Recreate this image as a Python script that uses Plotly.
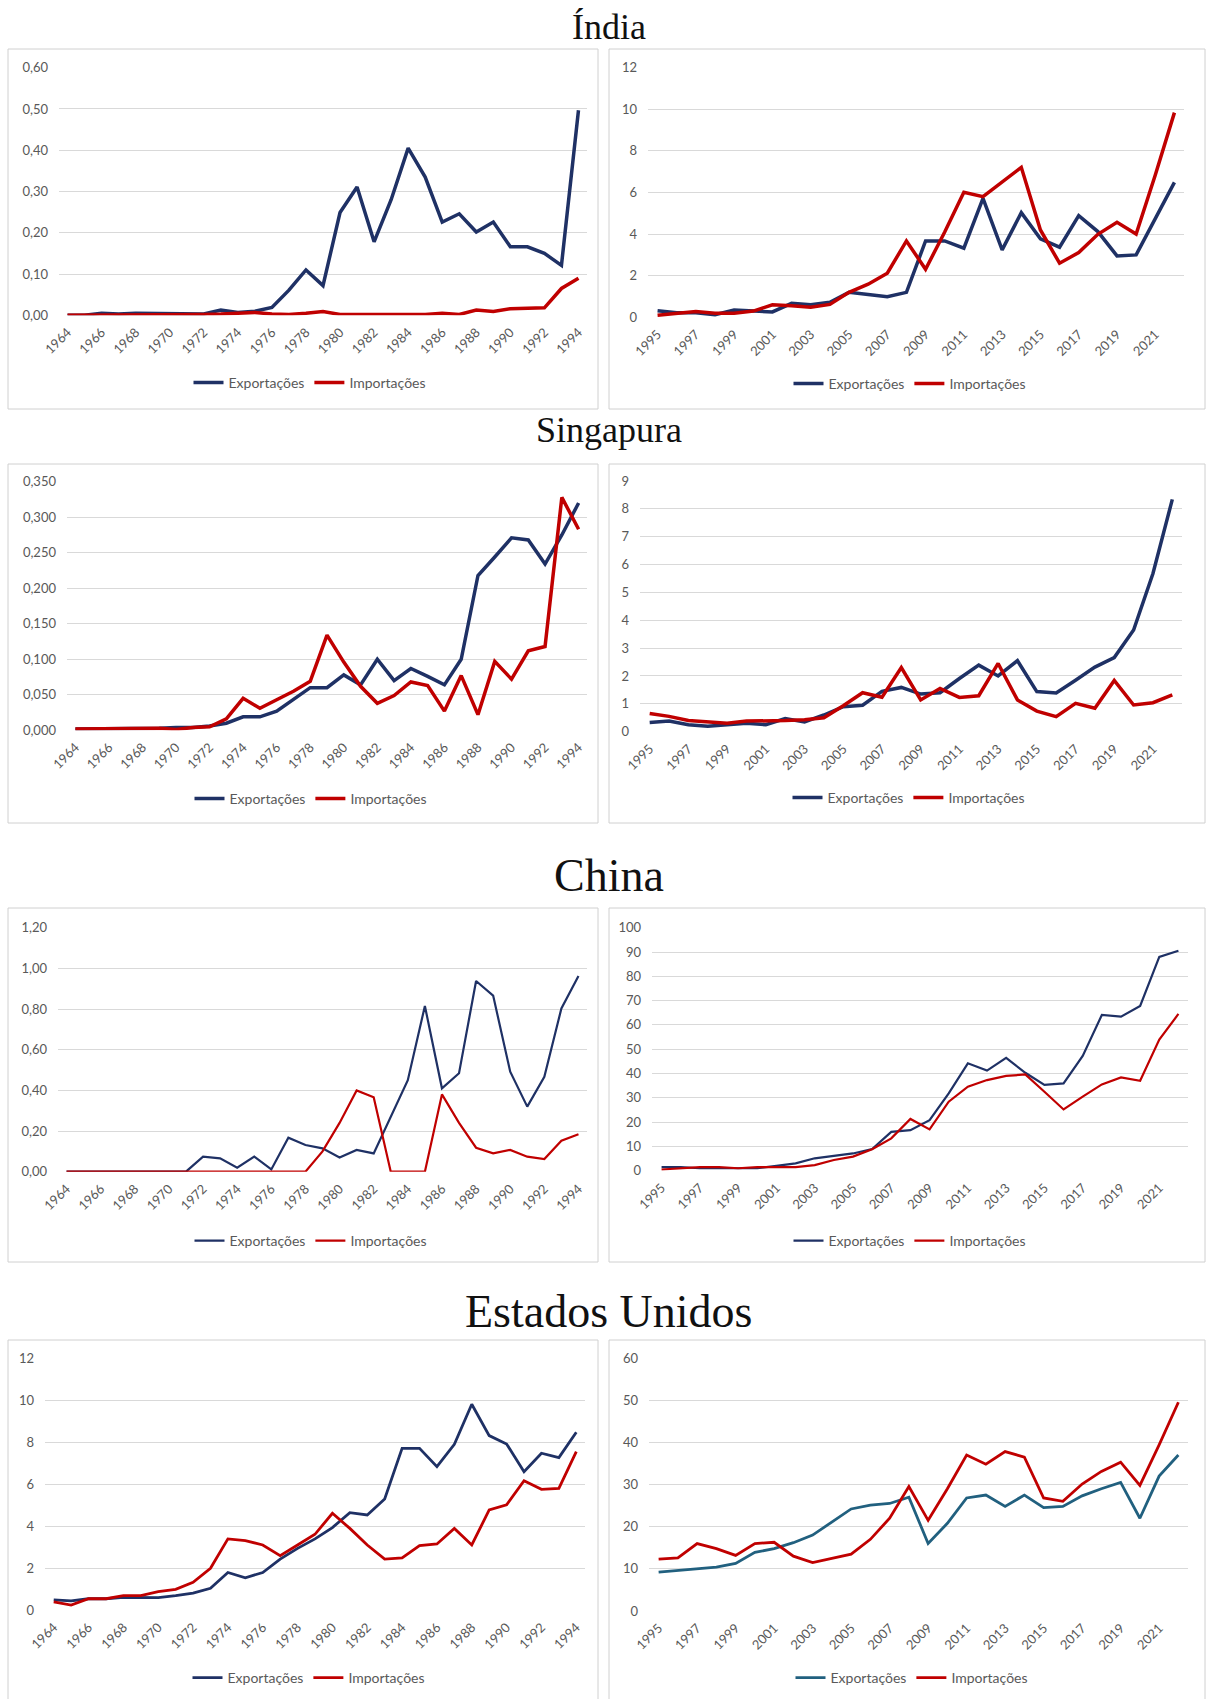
import plotly.graph_objects as go

# ---------------------------------------------------------------------------
# Data: trade values per country, two periods (1964-1994 and 1995-2022)
# ---------------------------------------------------------------------------
years_early = list(range(1964, 1995))
years_late = list(range(1995, 2023))

india_exp_early = [0.000, 0.000, 0.005, 0.003, 0.005, 0.005, 0.005, 0.003, 0.003, 0.013,
                   0.007, 0.010, 0.019, 0.061, 0.110, 0.072, 0.249, 0.311, 0.178, 0.280,
                   0.405, 0.335, 0.226, 0.246, 0.202, 0.226, 0.166, 0.166, 0.150, 0.121,
                   0.497]
india_imp_early = [0.000, 0.000, 0.002, 0.002, 0.002, 0.002, 0.002, 0.002, 0.002, 0.003,
                   0.006, 0.007, 0.003, 0.002, 0.005, 0.009, 0.002, 0.002, 0.002, 0.000,
                   0.002, 0.002, 0.005, 0.002, 0.013, 0.009, 0.016, 0.016, 0.018, 0.065,
                   0.090]
india_exp_late = [0.32, 0.22, 0.22, 0.12, 0.35, 0.30, 0.26, 0.67, 0.60, 0.72,
                  1.20, 1.10, 0.99, 1.20, 3.67, 3.67, 3.32, 5.72, 3.24, 5.03,
                  3.77, 3.37, 4.89, 4.12, 2.95, 3.00, 4.76, 6.49]
india_imp_late = [0.10, 0.20, 0.28, 0.20, 0.20, 0.30, 0.60, 0.55, 0.48, 0.62,
                  1.20, 1.59, 2.12, 3.67, 2.31, 4.10, 6.01, 5.80, 6.52, 7.21,
                  4.20, 2.60, 3.11, 3.99, 4.57, 4.00, 6.84, 9.84]

sing_exp_early = [0.002, 0.002, 0.002, 0.002, 0.003, 0.003, 0.004, 0.004, 0.006, 0.010,
                  0.019, 0.019, 0.027, 0.044, 0.060, 0.060, 0.078, 0.064, 0.100, 0.070,
                  0.087, 0.076, 0.064, 0.100, 0.218, 0.244, 0.271, 0.268, 0.234, 0.275,
                  0.320]
sing_imp_early = [0.002, 0.002, 0.002, 0.002, 0.003, 0.003, 0.001, 0.004, 0.005, 0.016,
                  0.045, 0.031, 0.043, 0.055, 0.069, 0.134, 0.096, 0.062, 0.038, 0.049,
                  0.068, 0.063, 0.027, 0.077, 0.022, 0.097, 0.072, 0.112, 0.118, 0.328,
                  0.283]
sing_exp_late = [0.33, 0.38, 0.25, 0.20, 0.25, 0.30, 0.25, 0.47, 0.35, 0.60,
                 0.90, 0.95, 1.45, 1.59, 1.35, 1.40, 1.91, 2.39, 2.00, 2.55,
                 1.44, 1.39, 1.85, 2.32, 2.66, 3.65, 5.68, 8.34]
sing_imp_late = [0.65, 0.55, 0.40, 0.35, 0.30, 0.38, 0.38, 0.40, 0.43, 0.50,
                 0.93, 1.40, 1.24, 2.30, 1.14, 1.55, 1.23, 1.29, 2.45, 1.14,
                 0.74, 0.54, 1.02, 0.84, 1.84, 0.96, 1.04, 1.32]

china_exp_early = [0.00, 0.00, 0.00, 0.00, 0.00, 0.00, 0.00, 0.00, 0.074, 0.066,
                   0.020, 0.074, 0.011, 0.167, 0.131, 0.115, 0.070, 0.107, 0.090, 0.270,
                   0.450, 0.815, 0.410, 0.484, 0.938, 0.866, 0.492, 0.320, 0.467, 0.803,
                   0.962]
china_imp_early = [0.00, 0.00, 0.00, 0.00, 0.00, 0.00, 0.00, 0.00, 0.00, 0.00,
                   0.00, 0.00, 0.00, 0.00, 0.00, 0.100, 0.240, 0.400, 0.366, 0.000,
                   0.000, 0.000, 0.380, 0.240, 0.118, 0.090, 0.107, 0.074, 0.062, 0.152,
                   0.184]
china_exp_late = [1.5, 1.5, 1.0, 1.0, 0.8, 1.0, 2.0, 3.0, 5.1, 6.0,
                  7.1, 8.9, 16.0, 16.7, 20.8, 31.8, 44.2, 41.2, 46.4, 40.3,
                  35.3, 35.9, 47.2, 64.1, 63.4, 67.8, 88.0, 90.5]
china_imp_late = [0.5, 1.0, 1.5, 1.5, 1.0, 1.5, 1.5, 1.5, 2.3, 4.4,
                  5.8, 8.8, 13.3, 21.3, 17.0, 28.4, 34.6, 37.3, 39.0, 39.6,
                  32.5, 25.2, 30.5, 35.5, 38.4, 37.0, 54.0, 64.5]

usa_exp_early = [0.50, 0.45, 0.55, 0.55, 0.62, 0.62, 0.60, 0.70, 0.82, 1.05,
                 1.80, 1.55, 1.80, 2.44, 2.95, 3.40, 3.94, 4.65, 4.54, 5.30,
                 7.71, 7.71, 6.84, 7.90, 9.81, 8.32, 7.92, 6.60, 7.48, 7.27,
                 8.48]
usa_imp_early = [0.40, 0.25, 0.55, 0.55, 0.70, 0.70, 0.89, 1.00, 1.33, 2.00,
                 3.40, 3.32, 3.11, 2.60, 3.11, 3.62, 4.62, 3.90, 3.11, 2.44,
                 2.50, 3.08, 3.16, 3.90, 3.11, 4.78, 5.02, 6.17, 5.76, 5.81,
                 7.56]
usa_exp_late = [9.2, 9.6, 10.0, 10.4, 11.3, 13.9, 14.8, 16.2, 18.0, 21.2,
                24.2, 25.1, 25.5, 27.0, 16.0, 20.8, 26.8, 27.5, 24.8, 27.5,
                24.5, 24.8, 27.3, 29.0, 30.5, 22.0, 32.0, 37.0]
usa_imp_late = [12.3, 12.6, 16.0, 14.8, 13.2, 16.0, 16.3, 13.0, 11.5, 12.5,
                13.5, 17.0, 22.0, 29.5, 21.5, 29.0, 37.0, 34.8, 37.8, 36.5,
                26.8, 26.0, 30.1, 33.1, 35.3, 29.8, 39.4, 49.5]

country_titles = ["Índia", "Singapura", "China", "Estados Unidos"]
series_names = ["Exportações", "Importações"]

# ---------------------------------------------------------------------------
# Page geometry (pixels) and styling
# ---------------------------------------------------------------------------
W, H = 1211, 1699
NAVY, RED, TEAL = "#1f3165", "#c00000", "#21607f"
GRID, FRAME, LABEL = "#d9d9d9", "#d0d0d0", "#595959"
UI_FONT = "Lato"


def fx(px):
    return px / W


def fy(py):
    return 1 - py / H


panels = [
    dict(years=years_early, exp=india_exp_early, imp=india_imp_early,
         box=(8, 49, 598, 409), plot=(59, 67.7, 587, 315.3),
         yr=(0, 0.6), dtick=0.1, fmt=".2f", leg=(310, 383), lw=3.5, exp_color=NAVY),
    dict(years=years_late, exp=india_exp_late, imp=india_imp_late,
         box=(609, 49, 1205, 409), plot=(648, 67.7, 1184, 317.3),
         yr=(0, 12), dtick=2, fmt="d", leg=(910, 384), lw=3.5, exp_color=NAVY),
    dict(years=years_early, exp=sing_exp_early, imp=sing_imp_early,
         box=(8, 464, 598, 823), plot=(67, 481.7, 587, 730.3),
         yr=(0, 0.35), dtick=0.05, fmt=".3f", leg=(311, 799), lw=3.5, exp_color=NAVY),
    dict(years=years_late, exp=sing_exp_late, imp=sing_imp_late,
         box=(609, 464, 1205, 823), plot=(640, 481, 1182, 731.7),
         yr=(0, 9), dtick=1, fmt="d", leg=(909, 798), lw=3.5, exp_color=NAVY),
    dict(years=years_early, exp=china_exp_early, imp=china_imp_early,
         box=(8, 908, 598, 1262), plot=(58, 927.7, 587, 1171.7),
         yr=(0, 1.2), dtick=0.2, fmt=".2f", leg=(311, 1241), lw=2.2, exp_color=NAVY),
    dict(years=years_late, exp=china_exp_late, imp=china_imp_late,
         box=(609, 908, 1205, 1262), plot=(652, 927.7, 1188, 1170.7),
         yr=(0, 100), dtick=10, fmt="d", leg=(910, 1241), lw=2.2, exp_color=NAVY),
    dict(years=years_early, exp=usa_exp_early, imp=usa_imp_early,
         box=(8, 1340, 598, 1700), plot=(45, 1358.3, 585, 1610.3),
         yr=(0, 12), dtick=2, fmt="d", leg=(309, 1678), lw=2.8, exp_color=NAVY),
    dict(years=years_late, exp=usa_exp_late, imp=usa_imp_late,
         box=(609, 1340, 1205, 1700), plot=(649, 1358, 1188, 1611),
         yr=(0, 60), dtick=10, fmt="d", leg=(912, 1678), lw=2.8, exp_color=TEAL),
]

title_rows = [(27, 36), (430, 36), (875, 46), (1311, 46)]  # (center y px, font size)

fig = go.Figure()
layout = dict(
    width=W, height=H,
    margin=dict(l=0, r=0, t=0, b=0, pad=0, autoexpand=False),
    paper_bgcolor="white", plot_bgcolor="rgba(0,0,0,0)",
    separators=",.",
    showlegend=True,
    shapes=[], annotations=[],
)

for i, p in enumerate(panels, start=1):
    sfx = "" if i == 1 else str(i)
    xa, ya = f"x{sfx}", f"y{sfx}"
    leg_name = "legend" if i == 1 else f"legend{i}"

    # panel frame
    x0, y0, x1, y1 = p["box"]
    layout["shapes"].append(dict(
        type="rect", xref="paper", yref="paper",
        x0=fx(x0), x1=fx(x1), y0=fy(y1), y1=fy(y0),
        line=dict(color=FRAME, width=1), fillcolor="white", layer="below"))

    years = p["years"]
    for name, vals, color in ((series_names[0], p["exp"], p["exp_color"]),
                              (series_names[1], p["imp"], RED)):
        fig.add_trace(go.Scatter(
            x=years, y=vals, name=name, mode="lines",
            line=dict(color=color, width=p["lw"]),
            xaxis=xa, yaxis=ya, legend=leg_name, hoverinfo="x+y+name"))

    px0, py0, px1, py1 = p["plot"]
    tickvals_x = years[::2]
    layout[f"xaxis{sfx}"] = dict(
        domain=[fx(px0), fx(px1)], anchor=ya,
        range=[years[0] - 0.5, years[-1] + 0.5],
        tickmode="array", tickvals=tickvals_x, ticktext=[str(v) for v in tickvals_x],
        tickangle=-45, tickfont=dict(family=UI_FONT, size=13, color=LABEL),
        showgrid=False, zeroline=False, showline=False, ticks="",
        ticklabelstandoff=6, automargin=False, fixedrange=True)

    ymin, ymax = p["yr"]
    nticks = int(round((ymax - ymin) / p["dtick"]))
    tickvals_y = [ymin + k * p["dtick"] for k in range(nticks + 1)]
    layout[f"yaxis{sfx}"] = dict(
        domain=[fy(py1), fy(py0)], anchor=xa,
        range=[ymin, ymax],
        tickmode="array", tickvals=tickvals_y, tickformat=p["fmt"],
        tickfont=dict(family=UI_FONT, size=13, color=LABEL),
        showgrid=True, gridcolor=GRID, gridwidth=1,
        zeroline=False, showline=False, ticks="", ticklabelstandoff=10,
        automargin=False, fixedrange=True)

    lx, ly = p["leg"]
    layout[leg_name] = dict(
        orientation="h", x=fx(lx), y=fy(ly), xanchor="center", yanchor="middle",
        font=dict(family=UI_FONT, size=14, color=LABEL),
        bgcolor="rgba(0,0,0,0)", itemwidth=30, tracegroupgap=0)

for text, (cy, size) in zip(country_titles, title_rows):
    layout["annotations"].append(dict(
        text=text, xref="paper", yref="paper", x=fx(609), y=fy(cy),
        xanchor="center", yanchor="middle", showarrow=False,
        font=dict(family="Liberation Serif", size=size, color="#111111")))

fig.update_layout(**layout)
fig.write_html("out.html")
